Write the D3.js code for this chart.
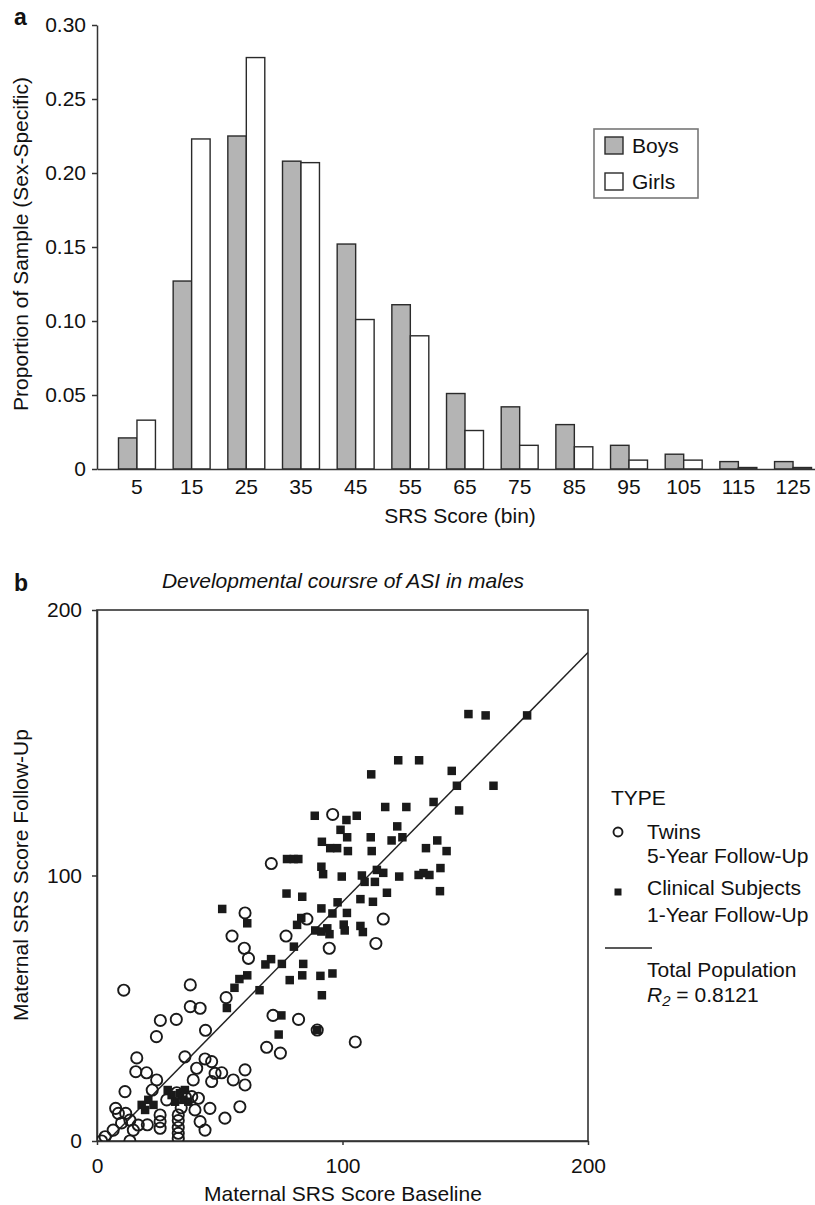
<!DOCTYPE html>
<html>
<head>
<meta charset="utf-8">
<script src="https://cdn.jsdelivr.net/npm/d3@7"></script>
<style>
  html, body { margin: 0; padding: 0; background: #fff; }
  svg { display: block; font-family: "Liberation Sans", Arial, Helvetica, sans-serif; }
  .axis text { font-size: 21px; fill: #111; }
  .axis path, .axis line { stroke: #333; stroke-width: 1.5; }
</style>
</head>
<body>
<svg id="chart" width="815" height="1205"></svg>
<script>
// ---- panel a: SRS score histogram ----
const bins = ['5', '15', '25', '35', '45', '55', '65', '75', '85', '95', '105', '115', '125'];
const boys = [0.021, 0.127, 0.225, 0.208, 0.152, 0.111, 0.051, 0.042, 0.030, 0.016, 0.010, 0.005, 0.005];
const girls = [0.033, 0.223, 0.278, 0.207, 0.101, 0.090, 0.026, 0.016, 0.015, 0.006, 0.006, 0.001, 0.001];
const propTicks = [0, 0.05, 0.10, 0.15, 0.20, 0.25, 0.30];

// ---- panel b: baseline vs follow-up ----
const twins = [
  [96, 123], [71, 104.5], [85.5, 83.6], [60.3, 85.9], [116.6, 83.6], [77, 77.2], [55, 77.2],
  [60, 72.6], [61.7, 68.8], [113.6, 74.4], [94.6, 72.6], [10.9, 56.8], [38, 58.8], [52.6, 54],
  [38, 50.6], [42, 50], [25.8, 45.4], [32.3, 45.8], [71.7, 47.3], [82.1, 45.8], [44.2, 41.7],
  [24.2, 39.3], [105.2, 37.3], [69.1, 35.3], [74.7, 33.1], [89.7, 41.8], [16.2, 31.3], [35.8, 31.7],
  [44, 30.9], [46.7, 29.9], [15.8, 26.1], [20.2, 25.7], [48.1, 25.5], [50.8, 25.7], [60.3, 26.8],
  [40.6, 27.4], [24.3, 23], [39.2, 23], [46.7, 22.4], [55.5, 23], [60.3, 21.1], [11.4, 18.6],
  [22.5, 19.2], [28.4, 15.5], [32.5, 18.2], [41.3, 16.1], [38.6, 16.7], [36, 16.5], [34.3, 12.5],
  [39.9, 11.7], [46, 12.3], [58.2, 12.9], [52.1, 8.6], [7.6, 12.3], [8.7, 10.4], [13.4, 7.9],
  [11.7, 10.4], [10, 6.8], [16.8, 6], [20.5, 6.1], [14.8, 4.1], [6.6, 4.1], [3.3, 1.6], [1.9, 0],
  [13.4, 0], [25.7, 9.8], [25.7, 7.3], [25.7, 4.8], [33.1, 9.8], [33.1, 7.7], [33.1, 5.1],
  [33.1, 2.9], [33.1, 1], [42, 7.3], [44, 4.1]
];
const clinical = [
  [151.3, 160.8], [158.3, 160.3], [175.2, 160.3], [122.7, 143.4], [131.2, 143.4], [111.7, 138.1],
  [144.5, 139.4], [146.6, 133.8], [161.5, 133.8], [137.1, 127.7], [117.4, 125.8], [126, 125.8],
  [147.5, 124.5], [88.7, 122.5], [105.8, 122.5], [101.6, 120.9], [122.3, 118.5], [99.2, 117.2],
  [101.9, 114.4], [111.5, 114.4], [120, 113.2], [124.4, 114.4], [138.6, 113.2], [91.6, 112.7],
  [95, 110.3], [97.8, 110.3], [102.2, 109.2], [111.9, 109.2], [134, 110.3], [142.4, 109.2],
  [77.4, 106.2], [80.1, 106.2], [82, 106.2], [91.4, 103.3], [92.1, 100.5], [99.7, 99.6],
  [107.9, 100], [109, 97.6], [114, 102.1], [116.6, 101], [123.1, 99.6], [131, 100.2],
  [133, 100.9], [135.4, 100.2], [139.9, 102.8], [113.2, 97.6], [118.1, 93.5], [139.7, 94.1],
  [77.2, 93.2], [83.6, 92], [107.3, 91.1], [112.4, 90.1], [98, 89.9], [91.4, 87.6], [51, 87.4],
  [61.2, 82], [83.2, 84], [81.5, 81.4], [95.9, 85.7], [101.8, 85.9], [88.9, 79.3], [91.4, 78.9],
  [93.8, 80.1], [94.7, 77.9], [100.5, 81.5], [100.9, 79.3], [107.3, 81], [108.3, 78.7],
  [80.2, 73.2], [75.3, 66.7], [84, 66.7], [68.6, 66.5], [70.9, 68.5], [78.5, 60.6], [83.6, 62.4],
  [91, 62.2], [95.9, 63.1], [61.2, 62.4], [58, 61], [56, 57.7], [66.2, 56.8], [91.6, 54.9],
  [52.9, 50.1], [75.1, 47.3], [74, 40.1], [89.7, 41.8], [20.9, 15.5], [19.6, 11.7], [23, 13.6],
  [18.2, 13.6], [33.8, 18], [35.2, 15.5], [37.2, 14.8], [31.8, 14.8], [30.4, 17.3], [35.8, 19.2],
  [28.8, 19.2]
];
const srsTicks = [0, 100, 200];
const fitSlope = 0.94, fitIntercept = -4;

const svg = d3.select('#chart');

// ================= panel a =================
const xa = d3.scaleBand().domain(bins).range([97, 833]).paddingInner(0.324).paddingOuter(0.393);
const xSub = d3.scaleBand().domain(['Boys', 'Girls']).range([0, xa.bandwidth()]);
const ya = d3.scaleLinear().domain([0, 0.30]).range([469, 25]);

const gA = svg.append('g');

const pairs = bins.map((b, i) => ({ bin: b, vals: [{ k: 'Boys', v: boys[i] }, { k: 'Girls', v: girls[i] }] }));
gA.selectAll('g.bin')
  .data(pairs)
  .join('g')
  .attr('class', 'bin')
  .attr('transform', d => `translate(${xa(d.bin)},0)`)
  .selectAll('rect')
  .data(d => d.vals)
  .join('rect')
  .attr('x', d => xSub(d.k))
  .attr('y', d => ya(d.v))
  .attr('width', xSub.bandwidth())
  .attr('height', d => ya(0) - ya(d.v))
  .attr('fill', d => d.k === 'Boys' ? '#b4b4b4' : '#fff')
  .attr('stroke', '#2a2a2a')
  .attr('stroke-width', 1.4);

gA.append('g')
  .attr('class', 'axis')
  .attr('transform', 'translate(0,469)')
  .call(d3.axisBottom(xa).tickSize(0).tickPadding(10));

gA.append('g')
  .attr('class', 'axis')
  .attr('transform', 'translate(97,0)')
  .call(d3.axisLeft(ya).tickValues(propTicks).tickSize(5).tickSizeOuter(0).tickPadding(6)
    .tickFormat(d => d === 0 ? '0' : d3.format('.2f')(d)));

gA.append('text')
  .attr('transform', 'translate(28,244) rotate(-90)')
  .attr('text-anchor', 'middle')
  .attr('font-size', 21).attr('fill', '#111')
  .text('Proportion of Sample (Sex-Specific)');

gA.append('text')
  .attr('x', 460).attr('y', 523)
  .attr('text-anchor', 'middle')
  .attr('font-size', 21).attr('fill', '#111')
  .text('SRS Score (bin)');

gA.append('text')
  .attr('x', 14).attr('y', 25)
  .attr('font-size', 23).attr('font-weight', 'bold').attr('fill', '#111')
  .text('a');

// legend a
const legA = gA.append('g');
legA.append('rect')
  .attr('x', 594).attr('y', 129).attr('width', 104).attr('height', 69)
  .attr('fill', '#fff').attr('stroke', '#777').attr('stroke-width', 1.6);
['Boys', 'Girls'].forEach((k, i) => {
  const yy = 137 + i * 36;
  legA.append('rect')
    .attr('x', 605).attr('y', yy).attr('width', 18).attr('height', 17)
    .attr('fill', k === 'Boys' ? '#b4b4b4' : '#fff')
    .attr('stroke', '#2a2a2a').attr('stroke-width', 1.4);
  legA.append('text')
    .attr('x', 632).attr('y', yy + 16)
    .attr('font-size', 21).attr('fill', '#111')
    .text(k);
});

// ================= panel b =================
const xb = d3.scaleLinear().domain([0, 200]).range([97, 588]);
const yb = d3.scaleLinear().domain([0, 200]).range([1141, 610]);

const gB = svg.append('g');

gB.append('rect')
  .attr('x', xb(0)).attr('y', yb(200))
  .attr('width', xb(200) - xb(0)).attr('height', yb(0) - yb(200))
  .attr('fill', 'none').attr('stroke', '#333').attr('stroke-width', 1.6);

gB.append('g')
  .attr('class', 'axis')
  .attr('transform', `translate(0,${yb(0)})`)
  .call(d3.axisBottom(xb).tickValues(srsTicks).tickSize(4).tickSizeOuter(0).tickPadding(13));

gB.append('g')
  .attr('class', 'axis')
  .attr('transform', `translate(${xb(0)},0)`)
  .call(d3.axisLeft(yb).tickValues(srsTicks).tickSize(5).tickSizeOuter(0).tickPadding(10));

gB.append('defs').append('clipPath').attr('id', 'plotClip')
  .append('rect')
  .attr('x', xb(0)).attr('y', yb(200))
  .attr('width', xb(200) - xb(0)).attr('height', yb(0) - yb(200));

const plot = gB.append('g').attr('clip-path', 'url(#plotClip)');

const x0 = -fitIntercept / fitSlope;
plot.append('line')
  .attr('x1', xb(x0)).attr('y1', yb(0))
  .attr('x2', xb(200)).attr('y2', yb(fitSlope * 200 + fitIntercept))
  .attr('stroke', '#222').attr('stroke-width', 1.5);

plot.selectAll('rect.clin')
  .data(clinical)
  .join('rect')
  .attr('class', 'clin')
  .attr('x', d => xb(d[0]) - 4.25)
  .attr('y', d => yb(d[1]) - 4.25)
  .attr('width', 8.5).attr('height', 8.5)
  .attr('fill', '#1a1a1a');

plot.selectAll('circle.twin')
  .data(twins)
  .join('circle')
  .attr('class', 'twin')
  .attr('cx', d => xb(d[0]))
  .attr('cy', d => yb(d[1]))
  .attr('r', 5.6)
  .attr('fill', 'none')
  .attr('stroke', '#1a1a1a')
  .attr('stroke-width', 1.9);

gB.append('text')
  .attr('transform', 'translate(28,875) rotate(-90)')
  .attr('text-anchor', 'middle')
  .attr('font-size', 21).attr('fill', '#111')
  .text('Maternal SRS Score Follow-Up');

gB.append('text')
  .attr('x', 343).attr('y', 1201)
  .attr('text-anchor', 'middle')
  .attr('font-size', 21).attr('fill', '#111')
  .text('Maternal SRS Score Baseline');

gB.append('text')
  .attr('x', 343).attr('y', 588)
  .attr('text-anchor', 'middle')
  .attr('font-size', 21).attr('font-style', 'italic').attr('fill', '#111')
  .text('Developmental coursre of ASI in males');

gB.append('text')
  .attr('x', 14).attr('y', 591)
  .attr('font-size', 23).attr('font-weight', 'bold').attr('fill', '#111')
  .text('b');

// legend b
const legB = gB.append('g').attr('font-size', 21).attr('fill', '#111');
legB.append('text').attr('x', 611).attr('y', 805).text('TYPE');
legB.append('circle').attr('cx', 618).attr('cy', 832).attr('r', 4.5)
  .attr('fill', 'none').attr('stroke', '#1a1a1a').attr('stroke-width', 1.9);
legB.append('text').attr('x', 647).attr('y', 839).text('Twins');
legB.append('text').attr('x', 647).attr('y', 863).text('5-Year Follow-Up');
legB.append('rect').attr('x', 614.5).attr('y', 888.5).attr('width', 7).attr('height', 7).attr('fill', '#1a1a1a');
legB.append('text').attr('x', 647).attr('y', 895).text('Clinical Subjects');
legB.append('text').attr('x', 647).attr('y', 922).text('1-Year Follow-Up');
legB.append('line').attr('x1', 605).attr('x2', 652).attr('y1', 948).attr('y2', 948)
  .attr('stroke', '#222').attr('stroke-width', 1.5);
legB.append('text').attr('x', 647).attr('y', 977).text('Total Population');
const r2 = legB.append('text').attr('x', 647).attr('y', 1002);
r2.append('tspan').attr('font-style', 'italic').text('R');
r2.append('tspan').attr('font-style', 'italic').attr('font-size', 15).attr('dy', 4).text('2');
r2.append('tspan').attr('dy', -4).text(' = 0.8121');
</script>
</body>
</html>
